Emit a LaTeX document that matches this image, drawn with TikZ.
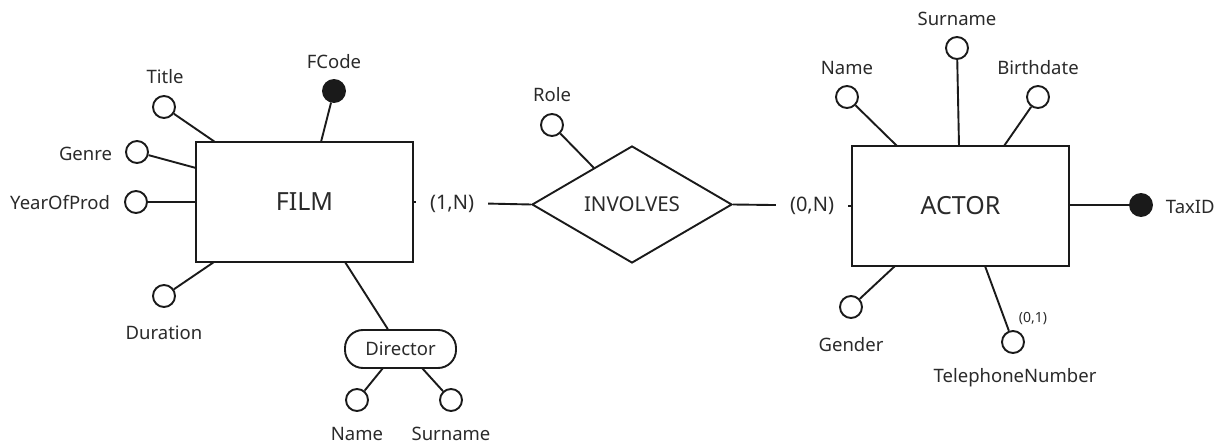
\documentclass[tikz,border=0pt]{standalone}
\usepackage{fontspec}
\setmainfont{Noto Sans}
\usetikzlibrary{shapes.geometric}
\definecolor{ink}{HTML}{1A1A1A}
\definecolor{txt}{HTML}{2A2A2A}
\begin{document}
\begin{tikzpicture}[x=1pt,y=-1pt,line width=1.9pt,
  every node/.style={text=txt},
  entity/.style={draw=ink,rectangle,minimum width=217pt,minimum height=120pt,inner sep=0pt,font=\fontsize{25}{28}\selectfont},
  relbox/.style={draw=ink,diamond,minimum width=200pt,minimum height=117pt,inner sep=0pt,font=\fontsize{20.5}{24}\selectfont},
  attr/.style={draw=ink,circle,fill=white,minimum size=22pt,inner sep=0pt},
  keyattr/.style={draw=ink,circle,fill=ink,minimum size=22pt,inner sep=0pt},
  lbl/.style={font=\fontsize{18.5}{22}\selectfont,inner sep=0pt},
  card/.style={font=\fontsize{20}{24}\selectfont,fill=white,minimum width=72pt,inner sep=2pt},
  composite/.style={draw=ink,rounded corners=18pt,minimum width=111pt,minimum height=38pt,inner sep=0pt,font=\fontsize{18.5}{22}\selectfont},
  link/.style={draw=ink}]
\useasboundingbox (0,0) rectangle (1225,446);
% entities and relationship
\node[entity] (film) at (304.5,202) {FILM};
\node[entity] (actor) at (960.5,206) {ACTOR};
\node[relbox] (inv) at (632,204.5) {INVOLVES};
% cardinalities
\draw[link] (film.east) -- (inv.west);
\draw[link] (inv.east) -- (actor.west);
\node[card] (c1n) at (452,204) {(1,N)};
\node[card] (c0n) at (812,206) {(0,N)};
% FILM attributes
\node[attr] (title) at (164,107) {};
\node[lbl] (ltitle) at (165,77) {Title};
\coordinate (ptitle) at (215,142);
\draw[link] (title) -- (ptitle);
\node[keyattr] (fcode) at (334,91) {};
\node[lbl] (lfcode) at (334,62) {FCode};
\coordinate (pfcode) at (321,142);
\draw[link] (fcode) -- (pfcode);
\node[attr] (genre) at (137,152) {};
\node[lbl,anchor=east] (lgenre) at (113,154) {Genre};
\coordinate (pgenre) at (196,168);
\draw[link] (genre) -- (pgenre);
\node[attr] (year) at (136,202) {};
\node[lbl,anchor=east] (lyear) at (111,203) {YearOfProd};
\coordinate (pyear) at (196,202);
\draw[link] (year) -- (pyear);
\node[attr] (dur) at (164,296) {};
\node[lbl] (ldur) at (164,333) {Duration};
\coordinate (pdur) at (214,262);
\draw[link] (dur) -- (pdur);
\node[composite] (dir) at (400.5,349) {Director};
\coordinate (pdir) at (345,262);
\draw[link] (pdir) -- (dir);
\node[attr] (dname) at (357,400) {};
\node[lbl] (ldname) at (357,434) {Name};
\coordinate (qdname) at (383,368);
\draw[link] (dname) -- (qdname);
\node[attr] (dsur) at (451,400) {};
\node[lbl] (ldsur) at (451,434) {Surname};
\coordinate (qdsur) at (422,368);
\draw[link] (dsur) -- (qdsur);
% relationship attribute
\node[attr] (role) at (552,125) {};
\node[lbl] (lrole) at (552,95) {Role};
\coordinate (prole) at (594,168);
\draw[link] (role) -- (prole);
% ACTOR attributes
\node[attr] (aname) at (847,97) {};
\node[lbl] (laname) at (847,68) {Name};
\coordinate (paname) at (897,146);
\draw[link] (aname) -- (paname);
\node[attr] (asur) at (957,48) {};
\node[lbl] (lasur) at (957,19) {Surname};
\coordinate (pasur) at (959,146);
\draw[link] (asur) -- (pasur);
\node[attr] (birth) at (1038,97) {};
\node[lbl] (lbirth) at (1038,68) {Birthdate};
\coordinate (pbirth) at (1004,146);
\draw[link] (birth) -- (pbirth);
\node[keyattr] (tax) at (1141,205) {};
\node[lbl,anchor=west] (ltax) at (1165,207) {TaxID};
\draw[link] (actor.east |- tax) -- (tax);
\node[attr] (gender) at (851,307) {};
\node[lbl] (lgender) at (851,345) {Gender};
\coordinate (pgender) at (895,266);
\draw[link] (gender) -- (pgender);
\node[attr] (tel) at (1013,342) {};
\node[lbl] (ltel) at (1015,378) {TelephoneNumber};
\node[font=\fontsize{14}{16}\selectfont,inner sep=0pt] (ltelc) at (1033,319) {(0,1)};
\coordinate (ptel) at (985,266);
\draw[link] (tel) -- (ptel);
\end{tikzpicture}
\end{document}
